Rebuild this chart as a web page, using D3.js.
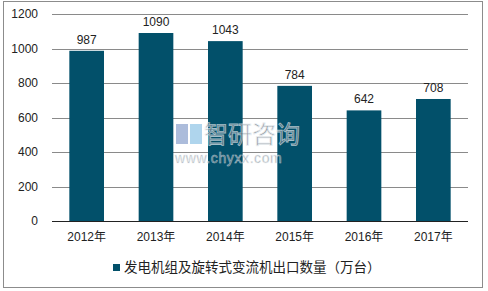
<!DOCTYPE html>
<html>
<head>
<meta charset="utf-8">
<script src="https://cdn.jsdelivr.net/npm/d3@7"></script>
<style>
  body { margin: 0; background: #fff; }
  text { font-family: "Liberation Sans", Arial, "Noto Sans CJK SC", sans-serif; }
</style>
</head>
<body>
<div id="chart"></div>
<script>
// data
const years = ['2012年', '2013年', '2014年', '2015年', '2016年', '2017年'];
const values = [987, 1090, 1043, 784, 642, 708];
const yTicks = [0, 200, 400, 600, 800, 1000, 1200];
const seriesName = '发电机组及旋转式变流机出口数量（万台）';

const width = 488, height = 291;
const margin = {top: 14, right: 20, bottom: 70, left: 52};
const barColor = '#02506a';

const svg = d3.select('#chart')
  .append('svg')
  .attr('width', width)
  .attr('height', height);

// outer frame
svg.append('rect')
  .attr('x', 3.5).attr('y', 1.5)
  .attr('width', 479).attr('height', 286)
  .attr('fill', 'none')
  .attr('stroke', '#8c8c8c');

const x = d3.scaleBand()
  .domain(years)
  .range([margin.left, width - margin.right])
  .paddingInner(0.5)
  .paddingOuter(0.25);

const y = d3.scaleLinear()
  .domain([0, 1200])
  .range([221.3, margin.top]);

// grid
svg.append('g')
  .selectAll('line')
  .data(yTicks.filter(d => d > 0))
  .enter().append('line')
  .attr('x1', margin.left).attr('x2', width - margin.right)
  .attr('y1', d => Math.round(y(d)) + 0.5)
  .attr('y2', d => Math.round(y(d)) + 0.5)
  .attr('stroke', '#8a8a8a');

// bars
svg.selectAll('rect.bar')
  .data(values)
  .enter().append('rect')
  .attr('class', 'bar')
  .attr('x', (d, i) => x(years[i]))
  .attr('y', d => y(d))
  .attr('width', x.bandwidth())
  .attr('height', d => y(0) - y(d))
  .attr('fill', barColor);

// watermark (sits over the bars like in the original)
const wm = svg.append('g').attr('opacity', 0.7);
wm.append('rect').attr('x', 176).attr('y', 124).attr('width', 12).attr('height', 20).attr('fill', '#8aa0cc');
wm.append('rect').attr('x', 190).attr('y', 124).attr('width', 12).attr('height', 20).attr('fill', '#8ec4e6');
wm.append('text')
  .attr('x', 204).attr('y', 143)
  .attr('font-size', 24).attr('fill', '#6a7580')
  .attr('stroke', '#e8eef2').attr('stroke-width', 0.8)
  .attr('font-family', '"Noto Sans CJK SC"')
  .text('智研咨询');
wm.append('text')
  .attr('x', 175).attr('y', 163)
  .attr('font-size', 14).attr('fill', '#6a7580')
  .attr('stroke', '#e8eef2').attr('stroke-width', 0.5)
  .attr('letter-spacing', 0.6)
  .text('www.chyxx.com');

// value labels
svg.selectAll('text.val')
  .data(values)
  .enter().append('text')
  .attr('class', 'val')
  .attr('x', (d, i) => x(years[i]) + x.bandwidth() / 2)
  .attr('y', d => y(d) - 7)
  .attr('text-anchor', 'middle')
  .attr('font-size', 12)
  .attr('fill', '#222')
  .text(d => d);

// y axis labels
svg.append('g')
  .selectAll('text')
  .data(yTicks)
  .enter().append('text')
  .attr('x', 38)
  .attr('y', d => y(d) + 4)
  .attr('text-anchor', 'end')
  .attr('font-size', 12)
  .attr('fill', '#222')
  .text(d => d);

// x axis
svg.append('line')
  .attr('x1', margin.left).attr('x2', width - margin.right)
  .attr('y1', Math.round(y(0)) + 0.5).attr('y2', Math.round(y(0)) + 0.5)
  .attr('stroke', '#222');

svg.append('g')
  .selectAll('text')
  .data(years)
  .enter().append('text')
  .attr('x', d => x(d) + x.bandwidth() / 2)
  .attr('y', 241)
  .attr('text-anchor', 'middle')
  .attr('font-size', 12)
  .attr('fill', '#222')
  .text(d => d);

// legend
svg.append('rect')
  .attr('x', 113).attr('y', 264)
  .attr('width', 7).attr('height', 7)
  .attr('fill', barColor);
svg.append('text')
  .attr('x', 124).attr('y', 272)
  .attr('font-size', 13.5)
  .attr('fill', '#222')
  .text(seriesName);
</script>
</body>
</html>
